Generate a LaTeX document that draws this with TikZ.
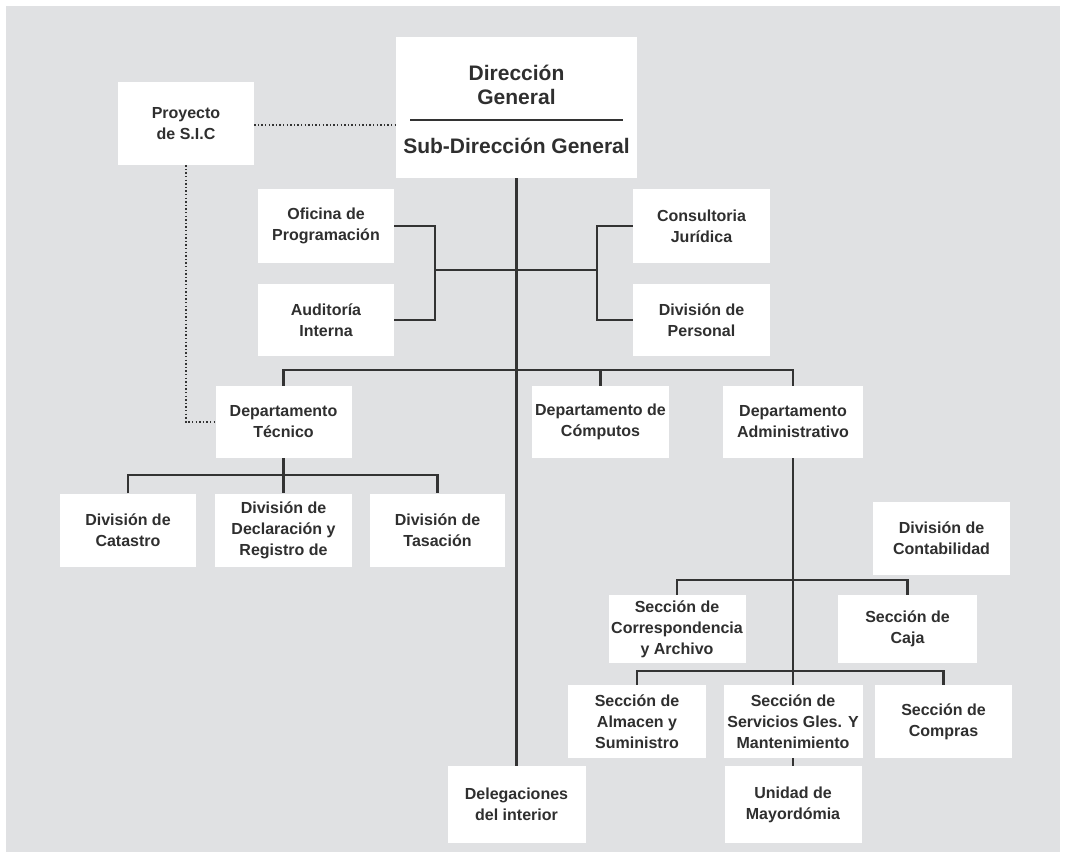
\documentclass[tikz,border=0pt]{standalone}
\usepackage{fontspec}
\setmainfont{Liberation Sans}
\definecolor{panel}{HTML}{E0E1E3}
\definecolor{ink}{HTML}{333333}
\definecolor{txt}{HTML}{2F2F2F}
\begin{document}
\begin{tikzpicture}[x=1pt,y=-1pt,
  box/.style={fill=white, draw=none, align=center, inner sep=0pt,
    text=txt, font=\bfseries\fontsize{16}{21}\selectfont},
  hdr/.style={align=center, inner sep=0pt, text=txt,
    font=\bfseries\fontsize{21}{24}\selectfont},
  link/.style={draw=ink, line width=2.2pt},
  dots/.style={draw=ink, line width=2.4pt, dash pattern=on 1.3pt off 2.3pt}]

% page and grey panel
\fill[white] (0,0) rectangle (1067,860);
\fill[panel] (6,6) rectangle (1060,852);

% top management
\node[box, minimum width=241pt, minimum height=141pt] (dg) at (516.5,107.5) {};
\node[hdr] (dgt) at (516.5,85) {Dirección\\General};
\node[hdr] (sdg) at (516.5,146) {Sub-Dirección General};
\draw[ink, line width=1.8pt] (410,120) -- (623,120);

\node[box, minimum width=136pt, minimum height=83pt] (sic) at (186,123.5) {Proyecto\\de S.I.C};

% staff units
\node[box, minimum width=136pt, minimum height=74pt] (ofi) at (326,226) {Oficina de\\Programación};
\node[box, minimum width=136pt, minimum height=72pt] (aud) at (326,320) {Auditoría\\Interna};
\node[box, minimum width=137pt, minimum height=74pt] (con) at (701.5,226) {Consultoria\\Jurídica};
\node[box, minimum width=137pt, minimum height=72pt] (per) at (701.5,320) {División de\\Personal};

% departments
\node[box, minimum width=136pt, minimum height=72pt] (tec) at (283.5,422) {Departamento\\Técnico};
\node[box, minimum width=137pt, minimum height=72pt] (com) at (600.5,422) {Departamento de\\Cómputos};
\node[box, minimum width=140pt, minimum height=72pt] (adm) at (793,422) {Departamento\\Administrativo};

% technical divisions
\node[box, minimum width=136pt, minimum height=73pt] (cat) at (128,530) {División de\\Catastro};
\node[box, minimum width=137pt, minimum height=73pt] (decl) at (283.5,530) {División de\\Declaración y\\Registro de};
\node[box, minimum width=135pt, minimum height=73pt] (tas) at (437.5,530) {División de\\Tasación};

% administrative units
\node[box, minimum width=137pt, minimum height=73pt] (cont) at (941.5,538) {División de\\Contabilidad};
\node[box, minimum width=137pt, minimum height=68pt] (corr) at (677,629) {Sección de\\Correspondencia\\y Archivo};
\node[box, minimum width=139pt, minimum height=68pt] (caja) at (907.5,629) {Sección de\\Caja};
\node[box, minimum width=138pt, minimum height=73pt] (alm) at (637,721.5) {Sección de\\Almacen y\\Suministro};
\node[box, minimum width=139pt, minimum height=73pt] (ser) at (793,721.5) {Sección de\\Servicios Gles. Y\\Mantenimiento};
\node[box, minimum width=137pt, minimum height=73pt] (cmp) at (943.5,721.5) {Sección de\\Compras};
\node[box, minimum width=137pt, minimum height=77pt] (may) at (793,804.5) {Unidad de\\Mayordómia};
\node[box, minimum width=138pt, minimum height=77pt] (del) at (516.5,804.5) {Delegaciones\\del interior};

% junction points
\coordinate (lj) at (435,270);
\coordinate (rj) at (597,270);
\coordinate (bus) at (516.5,370);
\coordinate (tb) at (283.5,475);
\coordinate (ab) at (793,580);
\coordinate (sb) at (793,671);

% dotted advisory links
\draw[dots] (sic.east |- 0,125) -- (dg.west |- 0,125);
\draw[dots] (sic.south) |- (tec.west);

% solid reporting lines
\draw[link] (dg.south) -- (del.north);
\draw[link] (ofi.east) -| (lj) |- (aud.east);
\draw[link] (con.west) -| (rj) |- (per.west);
\draw[link] (lj) -- (rj);
\draw[link] (tec.north) |- (bus) -| (adm.north);
\draw[link] (com.north) -- (com.north |- bus);
\draw[link] (tec.south) -- (decl.north);
\draw[link] (cat.north) |- (tb) -| (tas.north);
\draw[link] (adm.south) -- (ser.north);
\draw[link] (corr.north) |- (ab) -| (caja.north);
\draw[link] (alm.north) |- (sb) -| (cmp.north);
\draw[link] (ser.south) -- (may.north);
\end{tikzpicture}
\end{document}
